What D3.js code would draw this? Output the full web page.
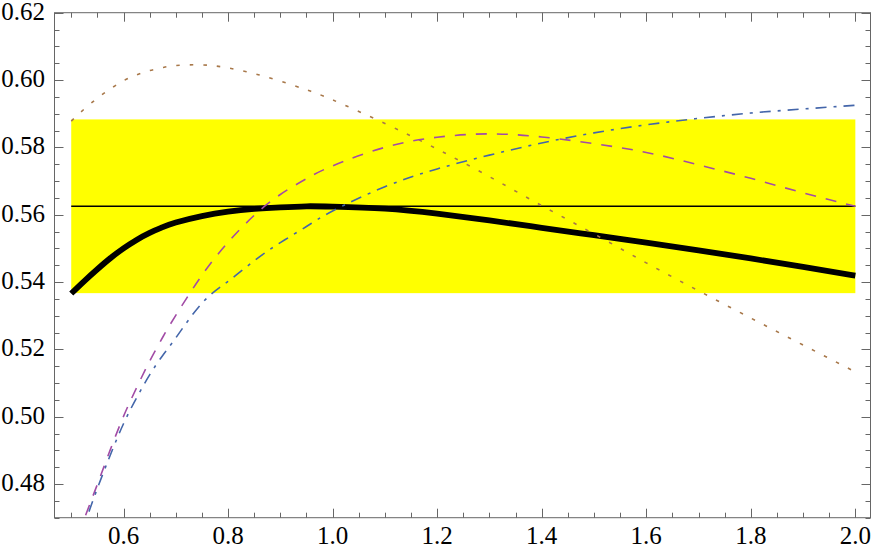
<!DOCTYPE html>
<html>
<head>
<meta charset="utf-8">
<script src="https://cdn.jsdelivr.net/npm/d3@7"></script>
<style>
  html, body { margin: 0; padding: 0; background: #fff; }
  svg { display: block; }
</style>
</head>
<body>
<svg id="chart" width="872" height="552"></svg>
<script>
// ---- data ----
const xGrid = [0.5, 0.525, 0.55, 0.575, 0.6, 0.625, 0.65, 0.675, 0.7, 0.75, 0.8, 0.85, 0.9, 0.95, 1.0, 1.1, 1.2, 1.3, 1.4, 1.5, 1.6, 1.7, 1.8, 1.9, 2.0];
const thickSeries   = [0.5366, 0.5403, 0.5438, 0.5471, 0.5500, 0.5525, 0.5546, 0.5563, 0.5577, 0.5596, 0.5609, 0.5617, 0.5622, 0.5625, 0.5624, 0.5618, 0.5603, 0.5583, 0.5561, 0.5539, 0.5517, 0.5494, 0.5470, 0.5445, 0.5419];
const dottedSeries  = [0.5878, 0.5914, 0.5946, 0.5974, 0.5998, 0.6015, 0.6028, 0.6037, 0.6043, 0.6045, 0.6036, 0.6019, 0.5997, 0.5971, 0.5941, 0.5871, 0.5795, 0.5713, 0.5627, 0.5543, 0.5457, 0.5374, 0.5293, 0.5213, 0.5133];
const dashedSeries  = [0.4590, 0.4697, 0.4799, 0.4903, 0.5001, 0.5086, 0.5165, 0.5236, 0.5301, 0.5420, 0.5518, 0.5598, 0.5660, 0.5707, 0.5745, 0.5800, 0.5830, 0.5840, 0.5831, 0.5811, 0.5785, 0.5748, 0.5708, 0.5665, 0.5625];
const dashDotSeries = [0.4560, 0.4678, 0.4787, 0.4887, 0.4979, 0.5056, 0.5124, 0.5182, 0.5234, 0.5337, 0.5402, 0.5463, 0.5517, 0.5565, 0.5611, 0.5683, 0.5736, 0.5777, 0.5813, 0.5843, 0.5867, 0.5886, 0.5902, 0.5914, 0.5925];
const meanValue = 0.5625;
const bandLow = 0.5367;
const bandHigh = 0.5883;
const bandRange = [0.5, 2.0];
const xTickLabels = ["0.6", "0.8", "1.0", "1.2", "1.4", "1.6", "1.8", "2.0"];
const yTickLabels = ["0.48", "0.50", "0.52", "0.54", "0.56", "0.58", "0.60", "0.62"];

// ---- layout ----
const FONT = "'Liberation Serif', 'Times New Roman', 'DejaVu Serif', serif";
const svg = d3.select("#chart");
const x = d3.scaleLinear().domain([0.468, 2.029]).range([54.5, 870.5]);
const y = d3.scaleLinear().domain([0.47, 0.62]).range([517.7, 12.7]);
const [x0, x1] = x.range();
const [y0, y1] = y.range();

svg.append("defs").append("clipPath").attr("id", "plotClip")
  .append("rect").attr("x", x0).attr("y", y1).attr("width", x1 - x0).attr("height", y0 - y1);

const plot = svg.append("g").attr("clip-path", "url(#plotClip)");

// yellow band
plot.append("rect")
  .attr("x", x(bandRange[0])).attr("width", x(bandRange[1]) - x(bandRange[0]))
  .attr("y", y(bandHigh)).attr("height", y(bandLow) - y(bandHigh))
  .attr("fill", "#ffff00");

// mean line
plot.append("line")
  .attr("x1", x(bandRange[0])).attr("x2", x(bandRange[1]))
  .attr("y1", y(meanValue)).attr("y2", y(meanValue))
  .attr("stroke", "#000").attr("stroke-width", 1.5);

const line = d3.line().x(d => x(d[0])).y(d => y(d[1])).curve(d3.curveNatural);
const pts = vals => xGrid.map((xv, i) => [xv, vals[i]]);

// thick black
plot.append("path").attr("d", line(pts(thickSeries)))
  .attr("fill", "none").attr("stroke", "#000").attr("stroke-width", 5.8)
  .attr("stroke-linejoin", "round");

// dotted brown
plot.append("path").attr("d", line(pts(dottedSeries)))
  .attr("fill", "none").attr("stroke", "#a8784a").attr("stroke-width", 1.6)
  .attr("stroke-dasharray", "3.5,10");

// dashed purple
plot.append("path").attr("d", line(pts(dashedSeries)))
  .attr("fill", "none").attr("stroke", "#a24ca6").attr("stroke-width", 1.6)
  .attr("stroke-dasharray", "11,10");

// dash-dot blue
plot.append("path").attr("d", line(pts(dashDotSeries)))
  .attr("fill", "none").attr("stroke", "#4466aa").attr("stroke-width", 1.6)
  .attr("stroke-dasharray", "11,7,3,7");

// ---- frame & ticks ----
const frameColor = "#666";
const axes = svg.append("g");
axes.append("rect").attr("x", x0).attr("y", y1).attr("width", x1 - x0).attr("height", y0 - y1)
  .attr("fill", "none").attr("stroke", frameColor).attr("stroke-width", 1);

const majorLen = 9, minorLen = 5;
const xMinor = d3.range(0, 31).map(i => +(0.5 + i * 0.05).toFixed(2)).filter(v => v >= 0.47 && v <= 2.03);
const xMajorVals = xTickLabels.map(Number);
xMinor.forEach(v => {
  const isMajor = xMajorVals.some(m => Math.abs(m - v) < 1e-6);
  const len = isMajor ? majorLen : minorLen;
  const px = Math.round(x(v)) + 0.5;
  axes.append("line").attr("x1", px).attr("x2", px).attr("y1", y0).attr("y2", y0 - len).attr("stroke", frameColor);
  axes.append("line").attr("x1", px).attr("x2", px).attr("y1", y1).attr("y2", y1 + len).attr("stroke", frameColor);
});
const yMinor = d3.range(0, 31).map(i => +(0.47 + i * 0.005).toFixed(3)).filter(v => v >= 0.47 && v <= 0.62);
const yMajorVals = yTickLabels.map(Number);
yMinor.forEach(v => {
  const isMajor = yMajorVals.some(m => Math.abs(m - v) < 1e-6);
  const len = isMajor ? majorLen : minorLen;
  const py = Math.round(y(v)) + 0.5;
  axes.append("line").attr("x1", x0).attr("x2", x0 + len).attr("y1", py).attr("y2", py).attr("stroke", frameColor);
  axes.append("line").attr("x1", x1).attr("x2", x1 - len).attr("y1", py).attr("y2", py).attr("stroke", frameColor);
});

// tick labels
xTickLabels.forEach(t => {
  svg.append("text").attr("x", x(+t)).attr("y", 544)
    .attr("text-anchor", "middle").attr("font-family", FONT).attr("font-size", 25).attr("fill", "#000").text(t);
});
yTickLabels.forEach(t => {
  svg.append("text").attr("x", 45).attr("y", y(+t) + 7)
    .attr("text-anchor", "end").attr("font-family", FONT).attr("font-size", 25).attr("fill", "#000").text(t);
});
</script>
</body>
</html>
